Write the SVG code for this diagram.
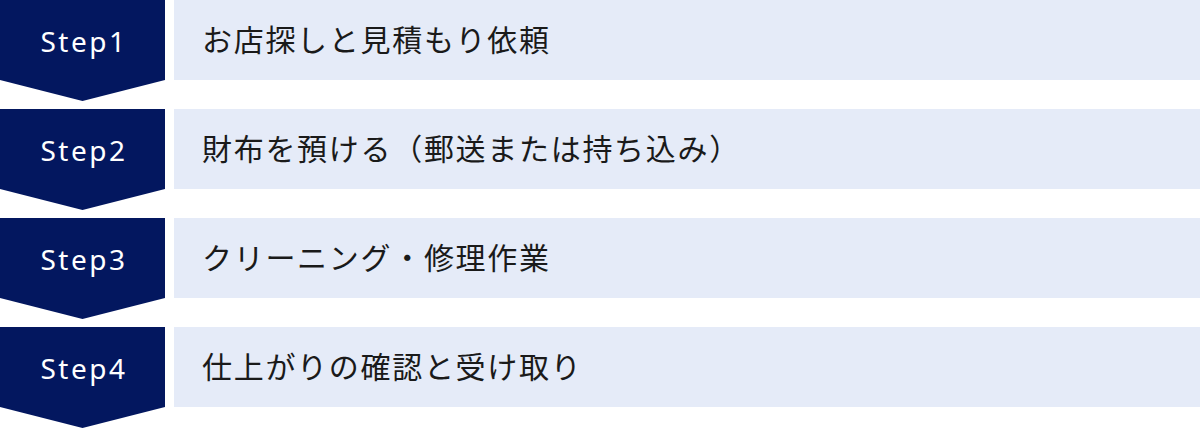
<svg xmlns="http://www.w3.org/2000/svg" width="1200" height="429" viewBox="0 0 1200 429">
<style>
.badge{fill:#03175F}
.bar{fill:#E5EBF8}
.step{font-family:"Noto Sans","Noto Sans CJK JP",sans-serif;font-size:28px;fill:#FFFFFF;text-anchor:middle;letter-spacing:2.5px}
.label{font-family:"Noto Sans CJK JP",sans-serif;font-size:30px;fill:#1A1A1A;letter-spacing:1.7px}
</style>
<rect width="1200" height="429" fill="#FFFFFF"/>
<g id="step1">
<polygon class="badge" points="0,0 165,0 165,80 82.5,101 0,80"/>
<rect class="bar" x="174" y="0" width="1026" height="80"/>
<text class="step" x="84" y="52">Step1</text>
<text class="label" x="202" y="51">お店探しと見積もり依頼</text>
</g>
<g id="step2">
<polygon class="badge" points="0,109 165,109 165,189 82.5,210 0,189"/>
<rect class="bar" x="174" y="109" width="1026" height="80"/>
<text class="step" x="84" y="161">Step2</text>
<text class="label" x="202" y="160">財布を預ける（郵送または持ち込み）</text>
</g>
<g id="step3">
<polygon class="badge" points="0,218 165,218 165,298 82.5,319 0,298"/>
<rect class="bar" x="174" y="218" width="1026" height="80"/>
<text class="step" x="84" y="270">Step3</text>
<text class="label" x="202" y="269">クリーニング・修理作業</text>
</g>
<g id="step4">
<polygon class="badge" points="0,327 165,327 165,407 82.5,428 0,407"/>
<rect class="bar" x="174" y="327" width="1026" height="80"/>
<text class="step" x="84" y="379">Step4</text>
<text class="label" x="202" y="378">仕上がりの確認と受け取り</text>
</g>
<g id="connectors"/>
</svg>
